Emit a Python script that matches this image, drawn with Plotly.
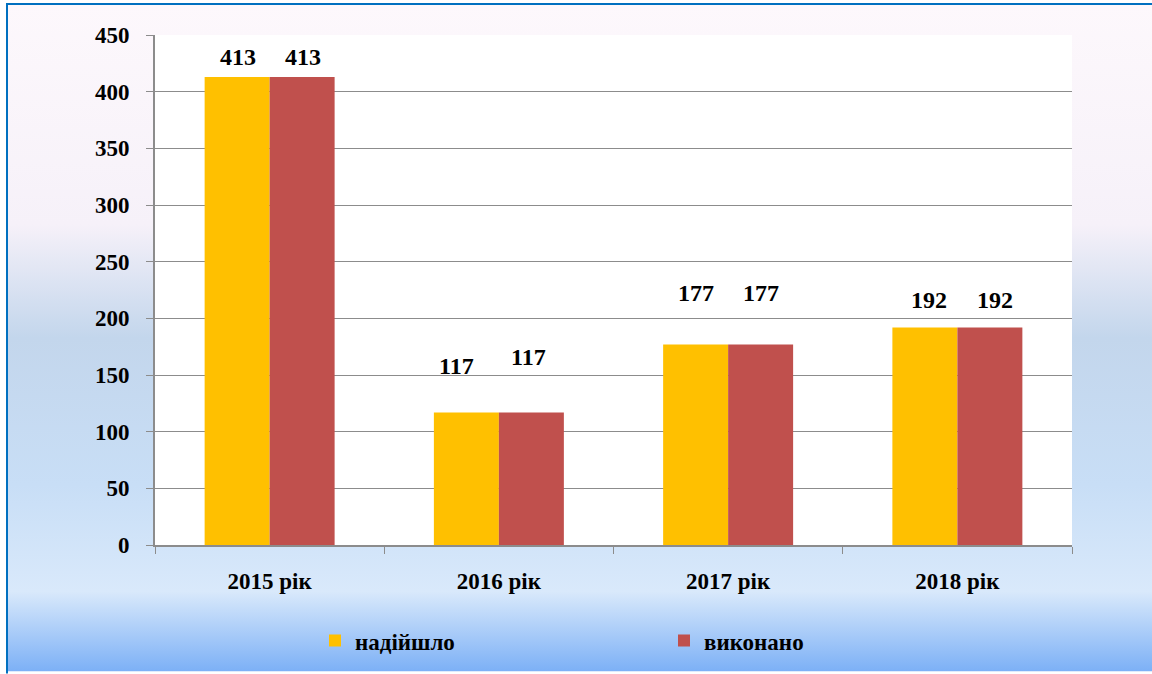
import plotly.graph_objects as go

years = ["2015 рік", "2016 рік", "2017 рік", "2018 рік"]
received = [413, 117, 177, 192]
done = [413, 117, 177, 192]
series_names = ["надійшло", "виконано"]

W, H = 1152, 674
L, R, T, B = 155, 80, 35, 127
PW, PH = W - L - R, H - T - B


def px_x(x):
    return (x - L) / PW


def px_y(y):
    return (H - B - y) / PH


FONT = "Liberation Serif, Times New Roman, serif"

gradient_svg = (
    "data:image/svg+xml;utf8,"
    "<svg xmlns='http://www.w3.org/2000/svg' width='100' height='100' preserveAspectRatio='none'>"
    "<defs><linearGradient id='g' x1='0' y1='0' x2='0' y2='1'>"
    "<stop offset='0' stop-color='%23FDF8FC'/>"
    "<stop offset='0.33' stop-color='%23F6F1F9'/>"
    "<stop offset='0.5' stop-color='%23C3D6EC'/>"
    "<stop offset='0.72' stop-color='%23C8DEF6'/>"
    "<stop offset='0.88' stop-color='%23D9E9FB'/>"
    "<stop offset='1' stop-color='%237CB0F6'/>"
    "</linearGradient></defs>"
    "<rect width='100' height='100' fill='url(%23g)'/></svg>"
)

fig = go.Figure()
fig.add_trace(go.Bar(x=years, y=received, name=series_names[0], marker_color="#FFC000",
                     marker_line_width=0))
fig.add_trace(go.Bar(x=years, y=done, name=series_names[1], marker_color="#C0504D",
                     marker_line_width=0))

# data labels, nudged by hand like in the original chart (pixels above bar / sideways)
lift = [[20, 46, 51, 27], [20, 55, 51, 27]]
nudge = [[0, -10, 0, 4], [0, -3, 0, 5]]
annotations = []
for s, (vals, dx) in enumerate(((received, -32), (done, 33))):
    for i, yr in enumerate(years):
        annotations.append(dict(x=yr, y=vals[i], xref="x", yref="y", text=str(vals[i]),
                                showarrow=False, xshift=dx + nudge[s][i], yshift=lift[s][i],
                                font=dict(family=FONT, size=24, color="black", weight="bold")))

fig.update_layout(
    width=W, height=H,
    margin=dict(l=L, r=R, t=T, b=B),
    paper_bgcolor="white",
    plot_bgcolor="white",
    barmode="group",
    bargap=0.433,
    bargroupgap=0,
    font=dict(family=FONT, size=23, color="black", weight="bold"),
    showlegend=True,
    legend=dict(orientation="h", x=px_x(315), xanchor="left", y=px_y(643), yanchor="middle",
                entrywidth=304, font=dict(family=FONT, size=23, color="black", weight="bold"),
                bgcolor="rgba(0,0,0,0)", itemwidth=30),
    annotations=annotations,
    images=[dict(source=gradient_svg, xref="paper", yref="paper",
                 x=px_x(8), y=px_y(4), sizex=(W - 8) / PW, sizey=(H - 4) / PH,
                 xanchor="left", yanchor="top", sizing="stretch", layer="below")],
    shapes=[
        dict(type="rect", xref="paper", yref="paper", x0=0, x1=1, y0=0, y1=1,
             fillcolor="white", line_width=0, layer="below"),
        dict(type="line", xref="paper", yref="paper", x0=px_x(7), x1=px_x(7),
             y0=px_y(3), y1=px_y(H + 2), line=dict(color="#0070C0", width=2)),
        dict(type="line", xref="paper", yref="paper", x0=px_x(6), x1=px_x(W + 2),
             y0=px_y(4), y1=px_y(4), line=dict(color="#0070C0", width=2)),
    ],
)

fig.update_xaxes(
    showline=True, linecolor="#8C8C8C", linewidth=2,
    ticks="outside", tickson="boundaries", ticklen=7, tickcolor="#8C8C8C",
    ticklabelstandoff=14,
    tickfont=dict(family=FONT, size=23, color="black", weight="bold"),
    showgrid=False,
)
fig.update_yaxes(
    range=[0, 450], dtick=50,
    showline=True, linecolor="#8C8C8C", linewidth=2,
    ticks="outside", ticklen=7, tickcolor="#8C8C8C",
    ticklabelstandoff=12,
    tickfont=dict(family=FONT, size=23, color="black", weight="bold"),
    showgrid=True, gridcolor="#8C8C8C", gridwidth=1,
    zeroline=False,
)

fig.write_html("out.html", config={"displayModeBar": False},
               post_script="document.body.style.margin='0';document.body.style.padding='0';")
